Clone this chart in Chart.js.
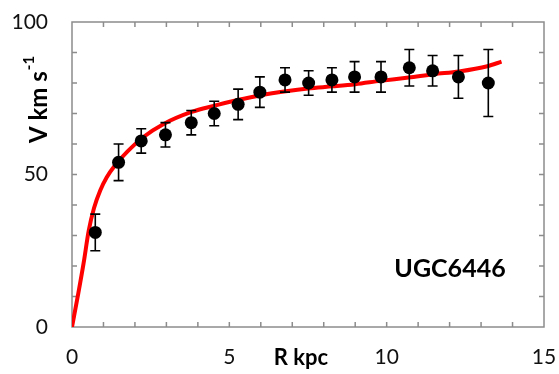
<!DOCTYPE html>
<html>
<head>
<meta charset="utf-8">
<script src="https://cdn.jsdelivr.net/npm/chart.js@4.4.1/dist/chart.umd.min.js"></script>
<style>
  html, body { margin: 0; padding: 0; background: #fff; }
  #rotCurve { display: block; }
</style>
</head>
<body>
<canvas id="rotCurve" width="559" height="374"></canvas>
<script>
// observed rotation curve (R in kpc, V and error in km/s)
var radiusKpc = [0.74, 1.48, 2.2, 2.97, 3.79, 4.52, 5.28, 5.97, 6.77, 7.52, 8.26, 8.98, 9.82, 10.72, 11.46, 12.28, 13.23];
var velocity = [31, 54, 61, 63, 67, 70, 73, 77, 81, 80, 81, 82, 82, 85, 84, 82, 80];
var velocityErr = [6, 6, 4, 4, 4, 4, 5, 5, 4, 4, 4, 5, 5, 6, 5, 7, 11];

// model fit
var fitRadius = [0, 0.2, 0.37, 0.53, 0.7, 0.9, 1.1, 1.37, 1.75, 2.27, 2.9, 3.8, 4.5, 5.3, 6.0, 6.8, 7.5, 8.3, 9.0, 9.8, 10.7, 11.5, 12.3, 13.2, 13.65];
var fitVelocity = [0, 11, 21, 31.5, 39, 44.8, 49, 53, 57.4, 62.3, 66.5, 70.5, 72.5, 74.5, 76, 77.3, 78.2, 78.9, 79.6, 80.7, 81.8, 82.9, 83.8, 85.5, 87];

var xTickLabels = [0, 5, 10, 15];
var yTickLabels = [0, 50, 100];
var galaxyName = 'UGC6446';

var FONT = 'Lato, "Liberation Sans", sans-serif';

var obsPoints = radiusKpc.map(function (r, i) { return { x: r, y: velocity[i] }; });
var fitPoints = fitRadius.map(function (r, i) { return { x: r, y: fitVelocity[i] }; });

// frame + inward ticks on all four sides
var framePlugin = {
  id: 'frame',
  beforeDatasetsDraw: function (chart) {
    var ctx = chart.ctx, a = chart.chartArea;
    var xs = chart.scales.x, ys = chart.scales.y;
    ctx.save();
    ctx.strokeStyle = '#8c8c8c';
    ctx.lineWidth = 1.5;
    ctx.strokeRect(a.left, a.top, a.right - a.left, a.bottom - a.top);
    ctx.beginPath();
    for (var i = 1; i < 15; i++) {
      var px = xs.getPixelForValue(i);
      ctx.moveTo(px, a.bottom); ctx.lineTo(px, a.bottom - 5);
      ctx.moveTo(px, a.top); ctx.lineTo(px, a.top + 5);
    }
    for (var v = 10; v < 100; v += 10) {
      var py = ys.getPixelForValue(v);
      ctx.moveTo(a.left, py); ctx.lineTo(a.left + 5, py);
      ctx.moveTo(a.right, py); ctx.lineTo(a.right - 5, py);
    }
    ctx.stroke();
    ctx.restore();
  }
};

// vertical error bars with caps, drawn under the markers
var errorBarPlugin = {
  id: 'errorBars',
  beforeDatasetDraw: function (chart, args) {
    if (args.index !== 1) return;
    var ctx = chart.ctx;
    var xs = chart.scales.x, ys = chart.scales.y;
    ctx.save();
    ctx.strokeStyle = '#000';
    ctx.lineWidth = 1.6;
    ctx.beginPath();
    radiusKpc.forEach(function (r, i) {
      var px = xs.getPixelForValue(r);
      var top = ys.getPixelForValue(velocity[i] + velocityErr[i]);
      var bot = ys.getPixelForValue(velocity[i] - velocityErr[i]);
      ctx.moveTo(px, top); ctx.lineTo(px, bot);
      ctx.moveTo(px - 5, top); ctx.lineTo(px + 5, top);
      ctx.moveTo(px - 5, bot); ctx.lineTo(px + 5, bot);
    });
    ctx.stroke();
    ctx.restore();
  }
};

// axis titles and galaxy label
var labelsPlugin = {
  id: 'labels',
  afterDraw: function (chart) {
    var ctx = chart.ctx;
    ctx.save();
    ctx.fillStyle = '#000';
    ctx.textBaseline = 'middle';
    ctx.textAlign = 'center';
    ctx.font = 'bold 22px ' + FONT;
    ctx.fillText('R kpc', 301, 358);
    ctx.font = 'bold 25px ' + FONT;
    ctx.fillText(galaxyName, 450, 269);

    // V km s^-1, rotated
    ctx.translate(46.5, 143);
    ctx.rotate(-Math.PI / 2);
    ctx.textAlign = 'left';
    ctx.textBaseline = 'alphabetic';
    ctx.font = 'bold 24px ' + FONT;
    var main = 'V km s';
    ctx.fillText(main, 0, 0);
    var w = ctx.measureText(main).width;
    ctx.font = 'bold 15px ' + FONT;
    ctx.fillText('-1', w + 1, -13);
    ctx.restore();
  }
};

new Chart(document.getElementById('rotCurve'), {
  type: 'scatter',
  data: {
    datasets: [
      {
        type: 'line',
        data: fitPoints,
        borderColor: '#ff0000',
        borderWidth: 4,
        pointRadius: 0,
        fill: false,
        cubicInterpolationMode: 'monotone',
        order: 2
      },
      {
        data: obsPoints,
        backgroundColor: '#000',
        borderWidth: 0,
        pointRadius: 6.5,
        order: 1
      }
    ]
  },
  options: {
    responsive: false,
    devicePixelRatio: 1,
    animation: false,
    layout: { padding: { top: 22, right: 15, left: 0, bottom: 0 } },
    plugins: { legend: { display: false }, tooltip: { enabled: false } },
    scales: {
      x: {
        type: 'linear',
        min: 0, max: 15,
        grid: { display: false, drawTicks: false },
        border: { display: false },
        afterBuildTicks: function (scale) {
          scale.ticks = xTickLabels.map(function (v) { return { value: v }; });
        },
        afterFit: function (scale) {
          scale.height = 47;
          scale.paddingLeft = 0;
          scale.paddingRight = 0;
        },
        ticks: {
          padding: 18,
          color: '#111',
          font: { family: FONT, size: 21 },
          maxRotation: 0
        }
      },
      y: {
        type: 'linear',
        min: 0, max: 100,
        grid: { display: false, drawTicks: false },
        border: { display: false },
        afterBuildTicks: function (scale) {
          scale.ticks = yTickLabels.map(function (v) { return { value: v }; });
        },
        afterFit: function (scale) {
          scale.width = 72;
          scale.paddingTop = 0;
          scale.paddingBottom = 0;
        },
        ticks: {
          padding: 24,
          color: '#111',
          font: { family: FONT, size: 21 }
        }
      }
    }
  },
  plugins: [framePlugin, errorBarPlugin, labelsPlugin]
});
</script>
</body>
</html>
